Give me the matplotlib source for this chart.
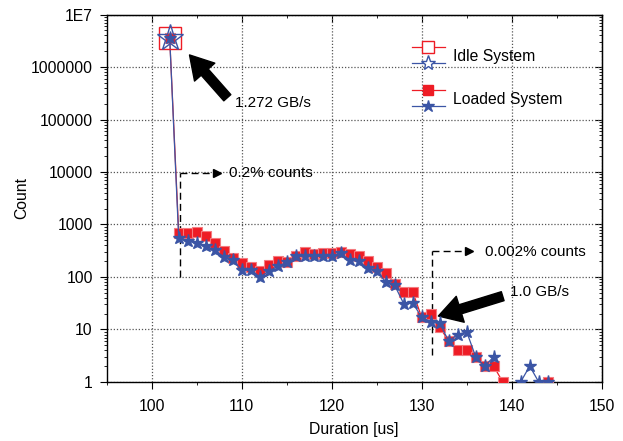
import numpy as np
import matplotlib
matplotlib.use('Agg')
import matplotlib.pyplot as plt
from matplotlib.ticker import FixedLocator, LogLocator, NullFormatter, MultipleLocator

plt.rcParams['font.family'] = ['Liberation Sans', 'DejaVu Sans']

# durations [us]
duration = list(range(102, 145))

# loaded system, red squares (nan = no count)
loaded_red = [3.5e6, 700, 700, 720, 600, 440, 315, 228, 186, 156,
              130, 168, 203, 189, 254, 294, 269, 281, 290, 295,
              278, 250, 205, 156, 119, 75, 52, 52, 17, 20,
              11, 6, 4, 4, 3, 2, 2, 1, np.nan, np.nan,
              np.nan, np.nan, 1]
# loaded system, blue stars
loaded_blue = [3.5e6, 545, 492, 451, 389, 326, 242, 209, 134, 138,
               100, 128, 160, 189, 250, 254, 250, 254, 254, 281,
               210, 200, 146, 129, 81, 69, 31, 32, 17, 14,
               13, 6, 8, 9, 3, 2, 3, np.nan, np.nan, 1,
               2, 1, 1]

# idle system: all counts in one bin
idle_x = [102]
idle_red = [3.5e6]
idle_blue = [3.5e6]

ytick_vals = [1, 10, 100, 1000, 10000, 100000, 1000000, 1e7]
ytick_labels = ['1', '10', '100', '1000', '10000', '100000', '1000000', '1E7']
xtick_vals = [100, 110, 120, 130, 140, 150]

red = '#ee1c25'
blue = '#3b55a5'
fs = 11.3

fig = plt.figure(figsize=(6.23, 4.41), dpi=100)
ax = fig.add_axes([0.1713, 0.134, 0.7945, 0.833])

ax.plot(duration, loaded_red, color=red, lw=0.9, marker='s', ms=7.3,
        mfc=red, mec='#f47a7f', mew=0.8, zorder=3)
ax.plot(duration, loaded_blue, color=blue, lw=0.9, marker='*', ms=9.5,
        mfc=blue, mec=blue, zorder=4)
ax.plot(idle_x, idle_red, ls='none', marker='s', ms=15.5, mfc='none',
        mec=red, mew=1.0, zorder=5)
ax.plot(idle_x, idle_blue, ls='none', marker='*', ms=20, mfc='none',
        mec=blue, mew=1.0, zorder=5)

ax.set_yscale('log')
ax.set_xlim(95, 150)
ax.set_ylim(1, 1e7)

ax.xaxis.set_major_locator(FixedLocator(xtick_vals))
ax.xaxis.set_minor_locator(MultipleLocator(5))
ax.yaxis.set_major_locator(FixedLocator(ytick_vals))
ax.set_yticklabels(ytick_labels)
ax.yaxis.set_minor_locator(LogLocator(base=10, subs=np.arange(2, 10), numticks=20))
ax.yaxis.set_minor_formatter(NullFormatter())

ax.tick_params(which='major', direction='out', length=5, width=0.8,
               labelsize=fs, pad=5)
ax.tick_params(axis='x', which='major', pad=7)
ax.tick_params(which='minor', direction='out', length=2.5, width=0.6)

# mirrored ticks on top / right point inward
top = ax.secondary_xaxis('top')
top.xaxis.set_major_locator(FixedLocator(xtick_vals))
top.xaxis.set_minor_locator(MultipleLocator(5))
top.tick_params(which='major', direction='in', length=5, width=0.8, labeltop=False)
top.tick_params(which='minor', direction='in', length=2.5, width=0.6)
right = ax.secondary_yaxis('right')
right.yaxis.set_major_locator(FixedLocator(ytick_vals))
right.yaxis.set_minor_locator(LogLocator(base=10, subs=np.arange(2, 10), numticks=20))
right.yaxis.set_minor_formatter(NullFormatter())
right.tick_params(which='major', direction='in', length=5, width=0.8, labelright=False)
right.tick_params(which='minor', direction='in', length=2.5, width=0.6)

for s in ax.spines.values():
    s.set_linewidth(1.0)

ax.grid(True, which='major', ls=(0, (1, 1.5)), color='#555555', lw=0.9)
ax.set_axisbelow(True)

ax.set_xlabel('Duration [us]', fontsize=fs, labelpad=6)
ax.set_ylabel('Count', fontsize=fs, labelpad=1)

# big arrows
arrow_kw = dict(arrowstyle='simple,head_width=1.3,head_length=1.1,tail_width=0.45',
                color='black', mutation_scale=15, shrinkA=0, shrinkB=0)
ax.annotate('', xy=(104.2, 1.7e6), xytext=(108.4, 2.6e5), arrowprops=arrow_kw)
ax.text(109.2, 2.05e5, '1.272 GB/s', fontsize=11, va='center', ha='left')

ax.annotate('', xy=(131.85, 18), xytext=(139.0, 43), arrowprops=arrow_kw)
ax.text(139.8, 52, '1.0 GB/s', fontsize=11, va='center', ha='left')

# dashed brackets
ax.plot([103.14, 103.14], [100, 9400], 'k', ls=(0, (5, 3)), lw=1.0)
ax.plot([103.14, 106.9], [9400, 9400], 'k', ls=(0, (5, 3)), lw=1.0)
ax.plot([107.2], [9400], 'k', marker='>', ms=6)
ax.text(108.6, 9400, '0.2% counts', fontsize=11, va='center', ha='left')

ax.plot([131.1, 131.1], [3.3, 316], 'k', ls=(0, (5, 3)), lw=1.0)
ax.plot([131.1, 135.0], [316, 316], 'k', ls=(0, (5, 3)), lw=1.0)
ax.plot([135.3], [316], 'k', marker='>', ms=6)
ax.text(137.0, 302, '0.002% counts', fontsize=11, va='center', ha='left')

# legend drawn in axes coordinates
tr = ax.transAxes
lx = [0.616, 0.683]
mx = 0.650
tx = 0.700
ax.plot(lx, [0.911, 0.911], color=red, lw=0.9, transform=tr)
ax.plot([mx], [0.911], marker='s', ms=8, mfc='white', mec=red, mew=1.0, transform=tr)
ax.plot(lx, [0.867, 0.867], color=blue, lw=0.9, transform=tr)
ax.plot([mx], [0.867], marker='*', ms=11, mfc='white', mec=blue, mew=1.0, transform=tr)
ax.text(tx, 0.885, 'Idle System', transform=tr, fontsize=fs, va='center')

ax.plot(lx, [0.795, 0.795], color=red, lw=0.9, transform=tr)
ax.plot([mx], [0.795], marker='s', ms=6.5, mfc=red, mec=red, transform=tr)
ax.plot(lx, [0.751, 0.751], color=blue, lw=0.9, transform=tr)
ax.plot([mx], [0.751], marker='*', ms=9, mfc=blue, mec=blue, transform=tr)
ax.text(tx, 0.769, 'Loaded System', transform=tr, fontsize=fs, va='center')

fig.savefig('out.png', dpi=100)
